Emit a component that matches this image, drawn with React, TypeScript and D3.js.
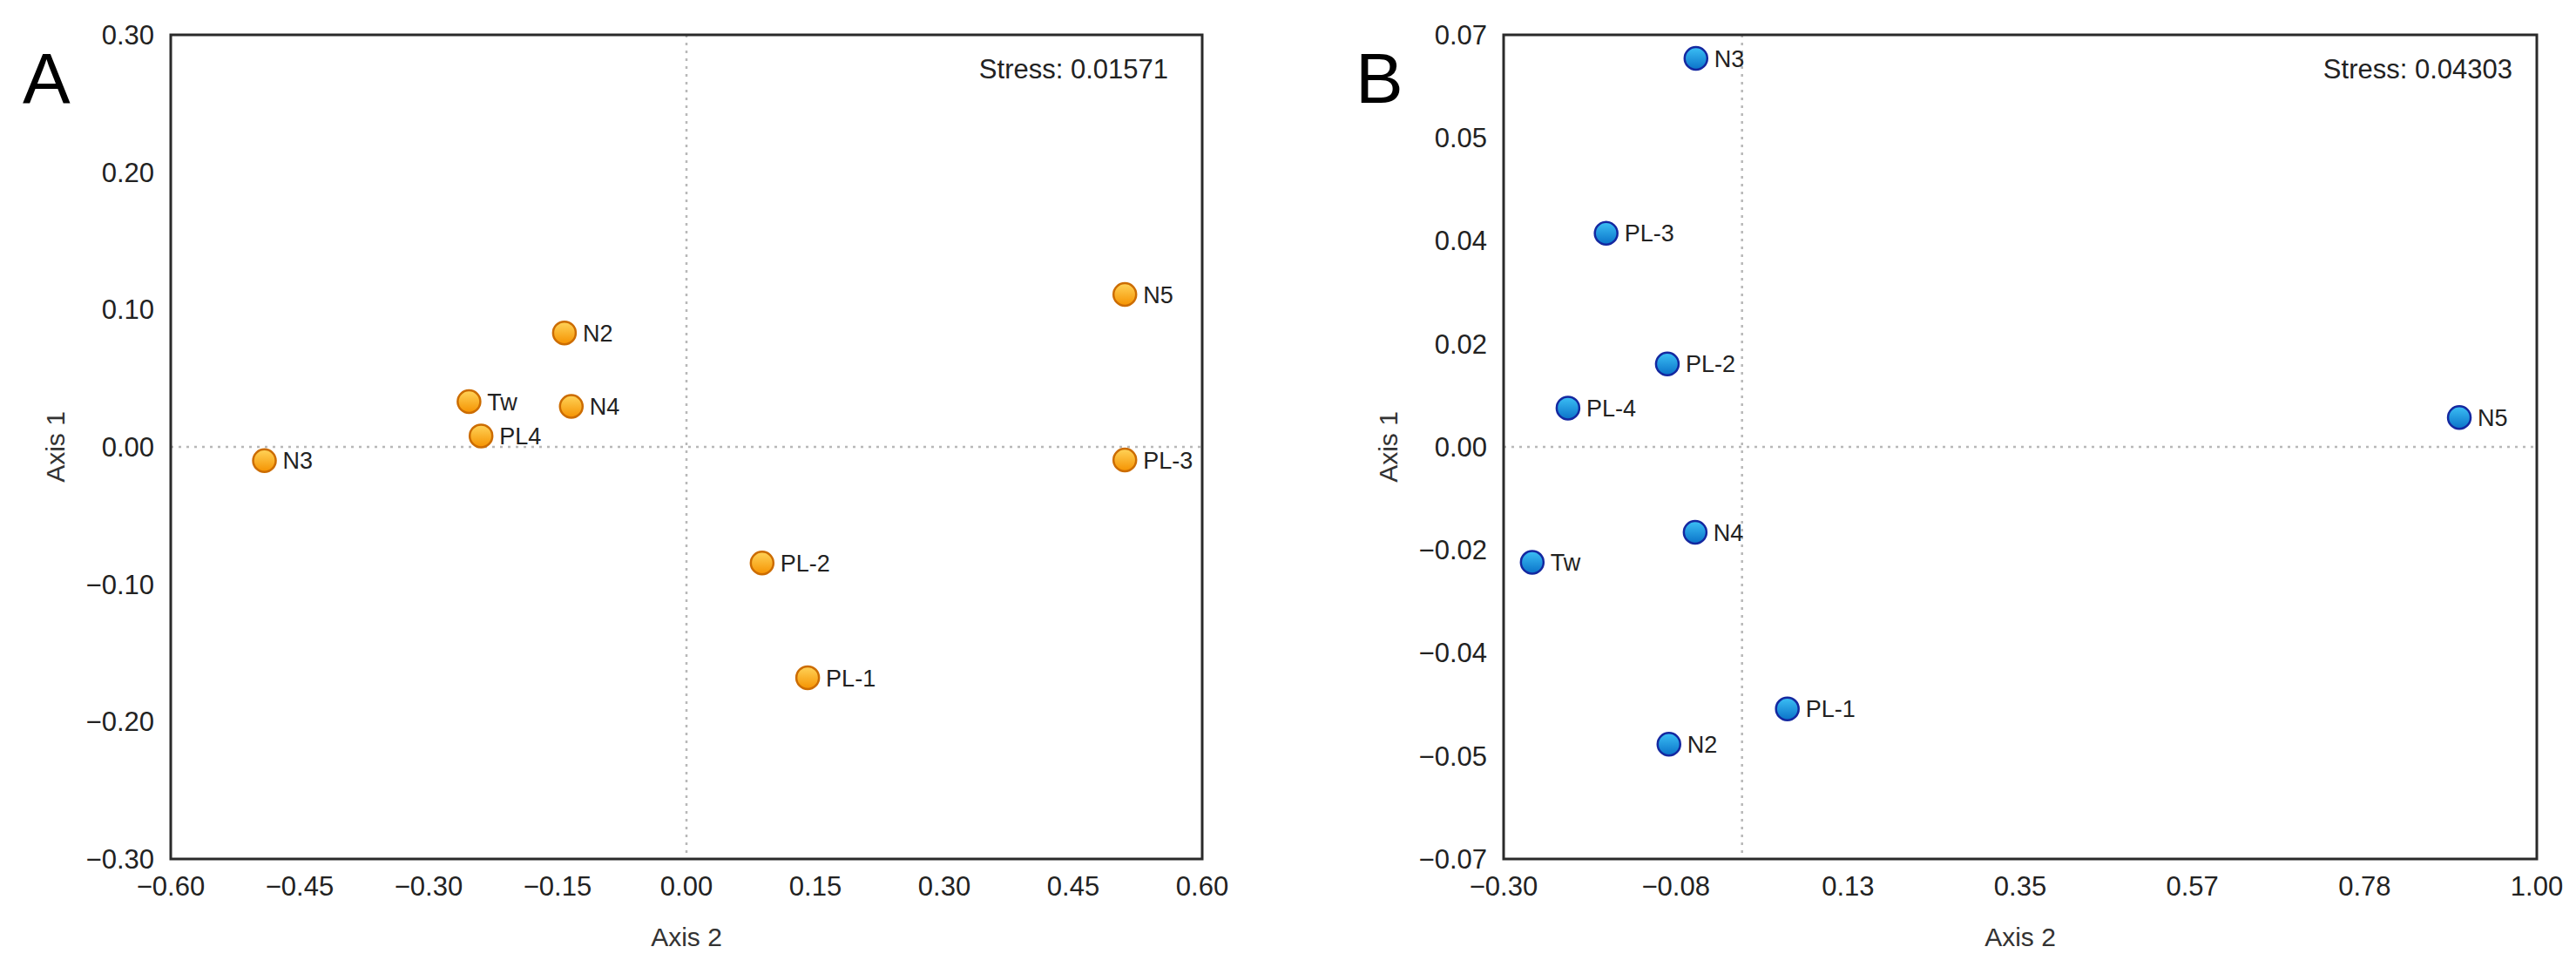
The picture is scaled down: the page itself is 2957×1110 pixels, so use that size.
import React from "react";
import * as d3 from "d3";

// panel A data
const namesA = ["N3", "Tw", "PL4", "N2", "N4", "N5", "PL-3", "PL-2", "PL-1"];
const axis2A = [-0.491, -0.253, -0.239, -0.142, -0.134, 0.51, 0.51, 0.088, 0.141];
const axis1A = [-0.01, 0.033, 0.008, 0.083, 0.0295, 0.111, -0.0095, -0.0845, -0.168];
const xTicksA = [-0.6, -0.45, -0.3, -0.15, 0, 0.15, 0.3, 0.45, 0.6];
const yTicksA = [-0.3, -0.2, -0.1, 0, 0.1, 0.2, 0.3];

// panel B data
const namesB = ["N3", "PL-3", "PL-2", "PL-4", "N4", "Tw", "PL-1", "N2", "N5"];
const axis2B = [-0.058, -0.171, -0.094, -0.219, -0.059, -0.264, 0.057, -0.092, 0.9025];
const axis1B = [0.066, 0.0363, 0.0141, 0.0066, -0.0145, -0.0196, -0.0445, -0.0505, 0.005];
const xTicksB = d3.range(7).map((i) => -0.3 + (i * 1.3) / 6);
const yTicksB = d3.range(9).map((i) => -0.07 + i * 0.0175);

const W = 2957;
const H = 1110;
const font = "'Liberation Sans', Arial, Helvetica, sans-serif";

type PanelProps = {
  letter: string;
  names: string[];
  xs: number[];
  ys: number[];
  xDomain: [number, number];
  yDomain: [number, number];
  xTicks: number[];
  yTicks: number[];
  left: number;
  right: number;
  stress: string;
  stressGap: number;
  grad: string;
  stroke: string;
};

const top = 40;
const bottom = 986;

function Panel(p: PanelProps) {
  const x = d3.scaleLinear().domain(p.xDomain).range([p.left, p.right]);
  const y = d3.scaleLinear().domain(p.yDomain).range([bottom, top]);
  const fmt = (v: number) => d3.format(".2f")(Math.abs(v) < 1e-9 ? 0 : v).replace("-", "\u2212");
  const midX = (p.left + p.right) / 2;
  const midY = (top + bottom) / 2;
  return (
    <g fontFamily={font}>
      <text x={p.left - 170} y={118} fontSize={82} fill="#000">
        {p.letter}
      </text>
      <line x1={x(0)} x2={x(0)} y1={top} y2={bottom} stroke="#b8b8b8" strokeWidth={2.5} strokeDasharray="3,6" />
      <line x1={p.left} x2={p.right} y1={y(0)} y2={y(0)} stroke="#b8b8b8" strokeWidth={2.5} strokeDasharray="3,6" />
      <rect x={p.left} y={top} width={p.right - p.left} height={bottom - top} fill="none" stroke="#2a2a2a" strokeWidth={3} />
      {p.yTicks.map((t, i) => (
        <text key={"y" + i} x={p.left - 19} y={y(t)} dy="0.35em" textAnchor="end" fontSize={31} fill="#222">
          {fmt(t)}
        </text>
      ))}
      {p.xTicks.map((t, i) => (
        <text key={"x" + i} x={x(t)} y={bottom + 42} textAnchor="middle" fontSize={31} fill="#222">
          {fmt(t)}
        </text>
      ))}
      <text x={midX} y={bottom + 100} textAnchor="middle" fontSize={30} fill="#333">
        Axis 2
      </text>
      <text transform={`translate(${p.left - 122},${midY}) rotate(-90)`} textAnchor="middle" fontSize={30} fill="#333">
        Axis 1
      </text>
      <text x={p.right - p.stressGap} y={90} textAnchor="end" fontSize={31} fill="#222">
        {p.stress}
      </text>
      {p.names.map((n, i) => (
        <g key={n + i}>
          <circle cx={x(p.xs[i])} cy={y(p.ys[i])} r={13} fill={`url(#${p.grad})`} stroke={p.stroke} strokeWidth={2.5} />
          <text x={x(p.xs[i]) + 21} y={y(p.ys[i])} dy="0.36em" fontSize={27} fill="#222">
            {n}
          </text>
        </g>
      ))}
    </g>
  );
}

export default function App() {
  return (
    <svg width={W} height={H} style={{ position: "absolute", left: 0, top: 0, background: "#fff" }}>
      <defs>
        <linearGradient id="gradA" x1="0" y1="0" x2="0" y2="1">
          <stop offset="0" stopColor="#ffd45a" />
          <stop offset="1" stopColor="#f59200" />
        </linearGradient>
        <linearGradient id="gradB" x1="0" y1="0" x2="0" y2="1">
          <stop offset="0" stopColor="#3cc0f5" />
          <stop offset="1" stopColor="#0a72c8" />
        </linearGradient>
      </defs>
      <rect width={W} height={H} fill="#fff" />
      <Panel
        letter="A"
        names={namesA}
        xs={axis2A}
        ys={axis1A}
        xDomain={[-0.6, 0.6]}
        yDomain={[-0.3, 0.3]}
        xTicks={xTicksA}
        yTicks={yTicksA}
        left={196}
        right={1380}
        stress="Stress: 0.01571"
        stressGap={39}
        grad="gradA"
        stroke="#cc6c00"
      />
      <Panel
        letter="B"
        names={namesB}
        xs={axis2B}
        ys={axis1B}
        xDomain={[-0.3, 1.0]}
        yDomain={[-0.07, 0.07]}
        xTicks={xTicksB}
        yTicks={yTicksB}
        left={1726}
        right={2912}
        stress="Stress: 0.04303"
        stressGap={28}
        grad="gradB"
        stroke="#1428a0"
      />
    </svg>
  );
}
